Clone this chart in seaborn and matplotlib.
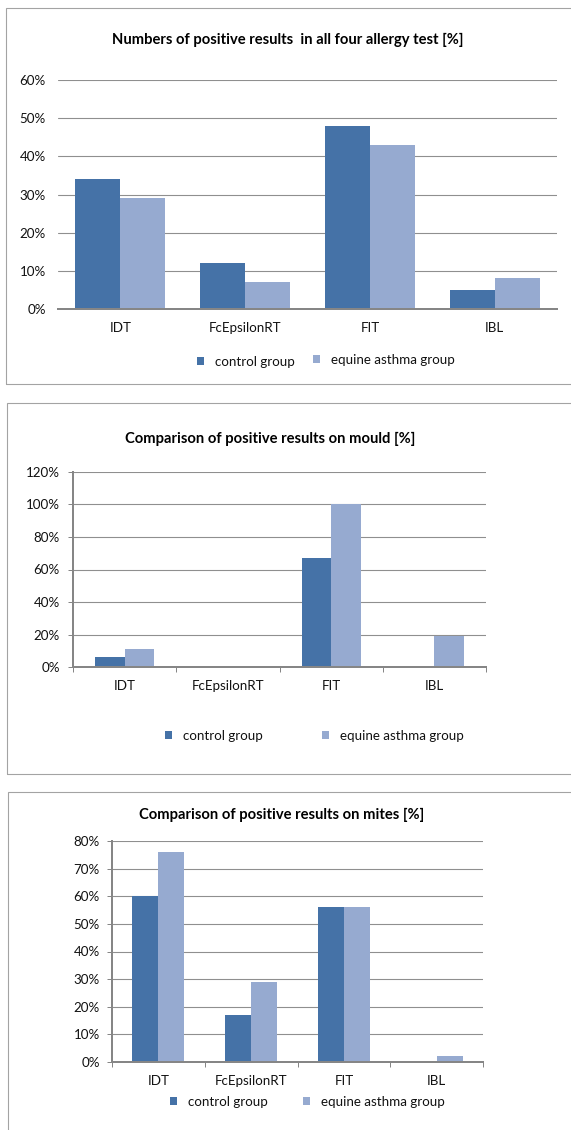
import matplotlib
matplotlib.use("Agg")
import matplotlib.pyplot as plt
import numpy as np
import pandas as pd
import seaborn as sns
from matplotlib.patches import Patch, Rectangle
from matplotlib.ticker import PercentFormatter, MultipleLocator

# ---- data (percent of positive results) ----
tests = ["IDT", "FcEpsilonRT", "FIT", "IBL"]
groups = ["control group", "equine asthma group"]

all_control = [34, 12, 48, 5]
all_asthma = [29, 7, 43, 8]

mould_control = [6, 0, 67, 0]
mould_asthma = [11, 0, 100, 19]

mites_control = [60, 17, 56, 0]
mites_asthma = [76, 29, 56, 2]

titles = [
    "Numbers of positive results  in all four allergy test [%]",
    "Comparison of positive results on mould [%]",
    "Comparison of positive results on mites [%]",
]

CTRL = "#4572A7"
ASTH = "#96AAD0"
GRID = "#8f8f8f"
AXIS = "#868686"
BOX = "#a3a3a3"
TEXT = "#111111"

W, H = 571, 1130

sns.set_theme(style="white")
plt.rcParams["font.family"] = ["Lato", "DejaVu Sans"]

fig = plt.figure(figsize=(W / 100, H / 100), dpi=100)
fig.patch.set_facecolor("white")

PT = 0.72  # points per pixel at 100 dpi
FS = 9.6   # axis / legend text size


def px_axes(x0, y0, x1, y1):
    return fig.add_axes([x0 / W, 1 - y1 / H, (x1 - x0) / W, (y1 - y0) / H])


def long_frame(ctrl, asth):
    return pd.DataFrame({
        "test": tests * 2,
        "group": [groups[0]] * len(tests) + [groups[1]] * len(tests),
        "value": list(ctrl) + list(asth),
    })


panels = [
    dict(data=(all_control, all_asthma), title=titles[0], title_xy=(288, 40),
         rect=(58, 80, 557, 309), ymax=60, step=10, width=0.72,
         box=(6, 8, 600, 384), yaxis_line=False, ypad=12, boundary_ticks=False,
         legend=[(197, 362), (313, 360)]),
    dict(data=(mould_control, mould_asthma), title=titles[1], title_xy=(270, 439),
         rect=(73, 472, 486, 667), ymax=120, step=20, width=0.57,
         box=(7, 403, 600, 774), yaxis_line=True, ypad=8, boundary_ticks=True,
         legend=[(165, 736), (322, 736)]),
    dict(data=(mites_control, mites_asthma), title=titles[2], title_xy=(282, 815),
         rect=(112, 841, 483, 1062), ymax=80, step=10, width=0.56,
         box=(8, 792, 600, 1160), yaxis_line=True, ypad=7, boundary_ticks=True,
         legend=[(170, 1102), (303, 1102)]),
]

for p in panels:
    # surrounding chart frame
    bx0, by0, bx1, by1 = p["box"]
    fig.add_artist(Rectangle((bx0 / W, 1 - by1 / H), (bx1 - bx0) / W, (by1 - by0) / H,
                             transform=fig.transFigure, fill=False,
                             edgecolor=BOX, linewidth=1.1 * PT))

    ax = px_axes(*p["rect"])
    df = long_frame(*p["data"])
    sns.barplot(data=df, x="test", y="value", hue="group", order=tests,
                hue_order=groups, palette=[CTRL, ASTH], width=p["width"],
                gap=0, linewidth=0, saturation=1, legend=False, ax=ax)

    ax.set_xlim(-0.5, len(tests) - 0.5)
    ax.set_ylim(0, p["ymax"])
    ax.yaxis.set_major_locator(MultipleLocator(p["step"]))
    ax.yaxis.set_major_formatter(PercentFormatter(decimals=0))
    ax.set_xlabel("")
    ax.set_ylabel("")
    ax.set_facecolor("none")

    ax.set_axisbelow(True)
    ax.grid(axis="y", color=GRID, linewidth=1.1 * PT)
    ax.grid(axis="x", visible=False)

    for side in ("top", "right"):
        ax.spines[side].set_visible(False)
    ax.spines["bottom"].set_color(AXIS)
    ax.spines["bottom"].set_linewidth(2 * PT)
    if p["yaxis_line"]:
        ax.spines["left"].set_color(AXIS)
        ax.spines["left"].set_linewidth(2 * PT)
        ax.tick_params(axis="y", left=True, length=5 * PT, width=1 * PT,
                       color=AXIS, direction="out", pad=p["ypad"] * PT)
    else:
        ax.spines["left"].set_visible(False)
        ax.tick_params(axis="y", left=False, length=0, pad=p["ypad"] * PT)

    ax.tick_params(axis="y", labelsize=FS, labelcolor=TEXT)
    ax.tick_params(axis="x", which="major", bottom=False, length=0,
                   labelsize=FS, labelcolor=TEXT, pad=13 * PT)
    if p["boundary_ticks"]:
        ax.set_xticks(np.arange(len(tests) + 1) - 0.5, minor=True)
        ax.tick_params(axis="x", which="minor", bottom=True, length=5 * PT,
                       width=1 * PT, color=AXIS, direction="out")

    tx, ty = p["title_xy"]
    fig.text(tx / W, 1 - ty / H, p["title"], ha="center", va="center",
             fontsize=10.6, fontweight="bold", color="#000000")

    for (lx, ly), g, c in zip(p["legend"], groups, [CTRL, ASTH]):
        fig.legend(handles=[Patch(facecolor=c, edgecolor="none")], labels=[g],
                   loc="center left", bbox_to_anchor=(lx / W, 1 - ly / H),
                   bbox_transform=fig.transFigure, frameon=False,
                   borderpad=0, borderaxespad=0, handlelength=0.55,
                   handleheight=0.55, handletextpad=0.8, fontsize=FS,
                   labelcolor=TEXT)

fig.savefig("out.png", dpi=100, facecolor="white")
